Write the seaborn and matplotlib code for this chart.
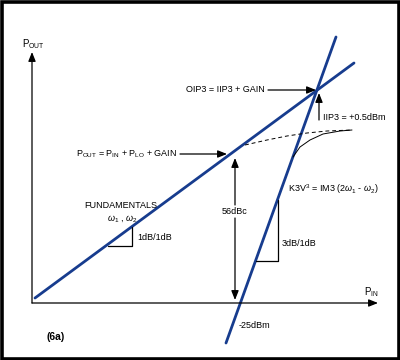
#!/usr/bin/env python3
"""Mixer IP3 diagram (6a)
"""

import matplotlib
matplotlib.use("Agg")
import matplotlib.pyplot as plt
from matplotlib.patches import Rectangle
import seaborn as sns

# diagram canvas units (x to the right, y downwards, 400 x 360)
fund_x = [35, 354]
fund_y = [298, 63]
im3_x = [226, 336]
im3_y = [343, 37]
fund_comp_x = [245, 267, 287, 307, 327, 352]
fund_comp_y = [145, 140, 136, 133, 131, 130]
im3_comp_x = [293, 300, 310, 323, 340, 352]
im3_comp_y = [157, 147, 140, 134, 131, 130]
slope1_x = [108, 132, 132]
slope1_y = [246, 246, 227]
slope3_x = [256, 278, 278]
slope3_y = [261, 261, 200]

BLUE = "#173c8e"
FS = 6.5


def arrow(ax, start, end, lw=0.9):
    ax.annotate("", xy=end, xytext=start,
                arrowprops=dict(arrowstyle="-|>,head_length=0.55,head_width=0.22",
                                color="black", lw=lw, shrinkA=0, shrinkB=0))


def main():
    sns.set_style("white")
    plt.rcParams['font.family'] = ['Liberation Sans Narrow', 'Liberation Sans', 'DejaVu Sans']
    plt.rcParams['text.color'] = 'black'
    plt.rcParams['mathtext.fontset'] = 'custom'
    plt.rcParams['mathtext.rm'] = 'Liberation Sans'
    plt.rcParams['mathtext.it'] = 'Liberation Sans:italic'

    fig = plt.figure(figsize=(4, 3.6), dpi=100)
    ax = fig.add_axes([0, 0, 1, 1])
    ax.set_xlim(0, 400)
    ax.set_ylim(360, 0)
    ax.axis("off")

    ax.add_patch(Rectangle((1.5, 1.5), 397, 357, fill=False, ec="black", lw=2.6))

    # axes
    arrow(ax, (32, 303), (32, 52))
    arrow(ax, (32, 303), (378, 303))
    ax.text(33, 44, r"P$_{\mathrm{OUT}}$", ha="center", va="center", fontsize=FS + 0.5)
    ax.text(371, 292, r"P$_{\mathrm{IN}}$", ha="center", va="center", fontsize=FS + 0.5)

    sns.lineplot(x=fund_x, y=fund_y, ax=ax, sort=False, estimator=None, color=BLUE, lw=2.0)
    sns.lineplot(x=im3_x, y=im3_y, ax=ax, sort=False, estimator=None, color=BLUE, lw=2.0)
    sns.lineplot(x=fund_comp_x, y=fund_comp_y, ax=ax, sort=False, estimator=None,
                 color="black", lw=0.7, linestyle=(0, (4, 3)))
    sns.lineplot(x=im3_comp_x, y=im3_comp_y, ax=ax, sort=False, estimator=None,
                 color="black", lw=0.7)
    sns.lineplot(x=slope1_x, y=slope1_y, ax=ax, sort=False, estimator=None, color="black", lw=0.9)
    sns.lineplot(x=slope3_x, y=slope3_y, ax=ax, sort=False, estimator=None, color="black", lw=0.9)

    # annotations
    ax.text(265, 90, "OIP3 = IIP3 + GAIN", ha="right", va="center", fontsize=FS)
    arrow(ax, (268, 90), (316, 90))
    arrow(ax, (319, 120), (319, 93))
    ax.text(323, 118, "IIP3 = +0.5dBm", ha="left", va="center", fontsize=FS)

    ax.text(177, 154, r"P$_{\mathrm{OUT}}$ = P$_{\mathrm{IN}}$ + P$_{\mathrm{LO}}$ + GAIN",
            ha="right", va="center", fontsize=FS)
    arrow(ax, (180, 154), (227, 154))

    arrow(ax, (235, 205), (235, 158))
    arrow(ax, (235, 218), (235, 300))
    ax.text(235, 211, "56dBc", ha="center", va="center", fontsize=FS)

    ax.text(121, 205, "FUNDAMENTALS", ha="center", va="center", fontsize=FS)
    ax.text(122, 218, r"$\omega_1$ , $\omega_2$", ha="center", va="center", fontsize=FS)
    ax.text(137, 238, "1dB/1dB", ha="left", va="center", fontsize=FS)
    ax.text(282, 243, "3dB/1dB", ha="left", va="center", fontsize=FS)
    ax.text(288, 189, r"K3V$^3$ = IM3 (2$\omega_1$ - $\omega_2$)", ha="left", va="center", fontsize=FS)
    ax.text(239, 326, "-25dBm", ha="left", va="center", fontsize=FS)
    ax.text(56, 337, "(6a)", ha="center", va="center", fontsize=7.5, fontweight="bold")

    fig.savefig("out.png", dpi=100)


if __name__ == '__main__':
    main()
